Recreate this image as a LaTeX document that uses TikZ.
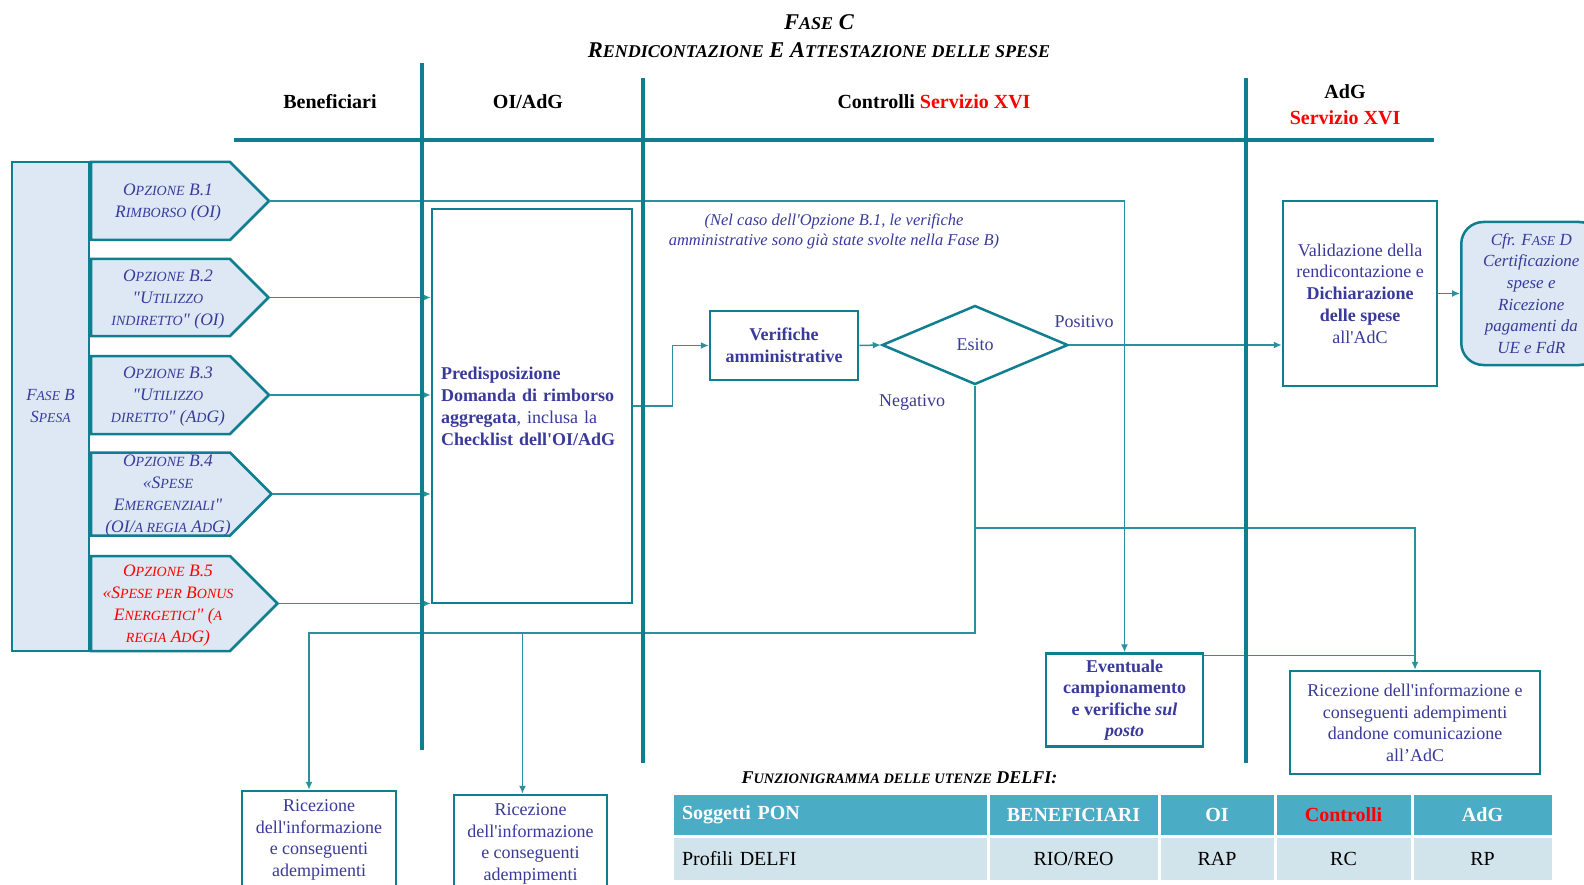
\documentclass[tikz,border=0pt]{standalone}
\usepackage{fontspec}
\setmainfont{Liberation Serif}[Ligatures=TeXOff]
\usetikzlibrary{arrows.meta}
\usetikzlibrary{calc}
\usetikzlibrary{shapes.geometric}

\definecolor{laneteal}{HTML}{0F7E8F}
\definecolor{linkteal}{HTML}{2A909E}
\definecolor{txtblue}{HTML}{3A3A9A}
\definecolor{boxfill}{HTML}{DDE8F4}
\definecolor{tabhead}{HTML}{4BACC6}
\definecolor{tabrow}{HTML}{D1E3EB}

% fake small caps
\makeatletter
\newcommand{\ssc}[1]{{\fontsize{\fpeval{0.8*\f@size}pt}{\baselineskip}\selectfont #1}}
\makeatother

\tikzset{
  lane/.style={laneteal, line width=4pt},
  link/.style={linkteal, line width=1.5pt},
  linkarr/.style={link, ->, >={Latex[length=8pt,width=7pt]}},
  stepbox/.style={draw=laneteal, line width=2.5pt, fill=white, text=txtblue, align=center, inner sep=2pt},
  optshape/.style={draw=laneteal, fill=boxfill, line width=2.5pt, line join=miter},
  optbox/.style={align=center, inner sep=0pt, minimum width=139pt, font=\itshape\fontsize{17.5}{22}\selectfont},
  headlbl/.style={font=\bfseries\fontsize{20}{26}\selectfont, align=center},
  lbl/.style={text=txtblue, font=\fontsize{18}{22}\selectfont},
  tabcell/.style={draw=white, line width=3pt, inner sep=0pt, font=\fontsize{20}{24}\selectfont},
}

\begin{document}
\begin{tikzpicture}[x=1pt,y=-1pt]
  \useasboundingbox (0,0) rectangle (1584,885);

  % title
  \node[font=\bfseries\itshape\fontsize{22.5}{28}\selectfont, align=center] (title) at (819,36)
    {F\ssc{ASE} C\\R\ssc{ENDICONTAZIONE} E A\ssc{TTESTAZIONE DELLE SPESE}};

  % lane headers
  \node[headlbl] (hbenef) at (330,102) {Beneficiari};
  \node[headlbl] (hoi) at (528,102) {OI/AdG};
  \node[headlbl] (hctrl) at (934,102) {Controlli \textcolor{red}{Servizio XVI}};
  \node[headlbl] (hadg) at (1345,105) {AdG\\\textcolor{red}{Servizio XVI}};

  % fase B and options
  \node[draw=laneteal, line width=2.5pt, fill=boxfill, minimum width=77pt, minimum height=489pt,
    text=txtblue, font=\itshape\fontsize{17}{22}\selectfont, align=center] (faseb) at (50.5,406.5)
    {F\ssc{ASE} B\\S\ssc{PESA}};
  \foreach \n/\yc/\h/\col/\txt in {
      b1/201/78/txtblue/{O\ssc{PZIONE} B.1\\R\ssc{IMBORSO} (OI)},
      b2/297.5/77/txtblue/{O\ssc{PZIONE} B.2\\"U\ssc{TILIZZO}\\\ssc{INDIRETTO}" (OI)},
      b3/395/78/txtblue/{O\ssc{PZIONE} B.3\\"U\ssc{TILIZZO}\\\ssc{DIRETTO}" (A\ssc{D}G)},
      b4/494/83/txtblue/{O\ssc{PZIONE} B.4\\«S\ssc{PESE}\\E\ssc{MERGENZIALI}"\\(OI/\ssc{A REGIA} A\ssc{D}G)},
      b5/603.5/95/red/{O\ssc{PZIONE} B.5\\«S\ssc{PESE PER} B\ssc{ONUS}\\E\ssc{NERGETICI}" (\ssc{A}\\\ssc{REGIA} A\ssc{D}G)}}{
    \draw[optshape] (91,\yc-\h/2) -- (230,\yc-\h/2) -- (230+\h/2,\yc) -- (230,\yc+\h/2) -- (91,\yc+\h/2) -- cycle;
    \node[optbox, text=\col, minimum height=\h pt] (\n) at (168,\yc+2) {\txt};
    \coordinate (\n tip) at (230+\h/2,\yc);
  }

  % OI/AdG
  \node[stepbox, minimum width=200pt, minimum height=394pt, text width=182pt, align=left,
    font=\fontsize{18}{22}\selectfont] (pred) at (532,406)
    {\textbf{Predisposizione}\\\textbf{Domanda di rimborso}\\\textbf{aggregata}, inclusa la\\\textbf{Checklist dell'OI/AdG}};

  % controlli
  \node[text=txtblue, font=\itshape\fontsize{16.5}{20}\selectfont, align=center] (note) at (834,231)
    {(Nel caso dell'Opzione B.1, le verifiche\\amministrative sono già state svolte nella Fase B)};
  \node[stepbox, minimum width=148pt, minimum height=69pt, font=\bfseries\fontsize{18}{22}\selectfont] (verif) at (784,345.5)
    {Verifiche\\amministrative};
  \node[diamond, aspect=2.35, draw=laneteal, line width=2.5pt, minimum width=186pt, minimum height=79pt,
    inner sep=0pt, text=txtblue, font=\fontsize{18}{22}\selectfont] (esito) at (975,345) {Esito};
  \node[lbl] (pos) at (1084,322) {Positivo};
  \node[lbl] (neg) at (912,402) {Negativo};
  \node[stepbox, minimum width=157pt, minimum height=93pt, font=\bfseries\fontsize{18}{21.5}\selectfont] (event) at (1124.5,700)
    {Eventuale\\campionamento\\e verifiche \textit{sul}\\\textit{posto}};

  % AdG
  \node[stepbox, minimum width=154pt, minimum height=185pt, font=\fontsize{18}{21.7}\selectfont] (valid) at (1360,293.5)
    {Validazione della\\rendicontazione e\\\textbf{Dichiarazione}\\\textbf{delle spese}\\all'AdC};
  \node[draw=laneteal, line width=2.5pt, fill=boxfill, rounded corners=22pt, minimum width=140pt, minimum height=143pt,
    anchor=west, text=txtblue, font=\itshape\fontsize{17}{21.6}\selectfont, align=center] (cfr) at (1460,293.5)
    {Cfr. F\ssc{ASE} D\\Certificazione\\spese e\\Ricezione\\pagamenti da\\UE e FdR};
  \node[stepbox, minimum width=250pt, minimum height=103pt, font=\fontsize{18}{21.5}\selectfont] (ric3) at (1415,722.5)
    {Ricezione dell'informazione e\\conseguenti adempimenti\\dandone comunicazione\\all’AdC};

  % bottom boxes
  \node[stepbox, minimum width=154pt, minimum height=98pt, font=\fontsize{18}{21.8}\selectfont] (ric1) at (319,840)
    {Ricezione\\dell'informazione\\e conseguenti\\adempimenti};
  \node[stepbox, minimum width=153pt, minimum height=98pt, font=\fontsize{18}{21.8}\selectfont] (ric2) at (530.5,844)
    {Ricezione\\dell'informazione\\e conseguenti\\adempimenti};

  % connectors
  \foreach \n in {b2,b3,b4,b5}
    \draw[linkarr] (\n tip) -- (\n tip -| pred.west);
  \draw[linkarr] (b1tip) -| (event.north);
  \draw[linkarr] (pred.east) -- ++(39,0) |- (verif.west);
  \draw[linkarr] (verif.east) -- (esito.west);
  \draw[linkarr] (esito.east) -- (esito.east -| valid.west);
  \draw[linkarr] (valid.east) -- (cfr.west);
  \path (esito.south) ++(0,247) coordinate (negbase);
  \path (esito.south) ++(0,142) coordinate (negmid);
  \coordinate (ric1in) at ([xshift=-10pt]ric1.north);
  \coordinate (ric2in) at ([xshift=-8pt]ric2.north);
  \draw[linkarr] (esito.south) -- (negbase) -| (ric1in);
  \draw[linkarr] (ric2in |- negbase) -- (ric2in);
  \draw[linkarr] (negmid) -| (ric3.north);
  \coordinate (evr) at ([yshift=-3pt]event.north east);
  \draw[link] (evr) -- (evr -| ric3.north);

  % lanes
  \draw[lane] (234,140) -- (1434,140);
  \draw[lane] (422,63) -- (422,750);
  \draw[lane] (643,78) -- (643,763);
  \draw[lane] (1246,78) -- (1246,763);

  % funzionigramma
  \node[anchor=west, font=\bfseries\itshape\fontsize{18}{22}\selectfont] (funz) at (738,778)
    {F\ssc{UNZIONIGRAMMA DELLE UTENZE} DELFI:};
  \foreach \c/\xa/\xb/\al/\ha/\rb in {
      c1/672/988/left/{Soggetti PON}/{Profili DELFI},
      c2/988/1159/center/{BENEFICIARI}/{RIO/REO},
      c3/1159/1275/center/{OI}/{RAP},
      c4/1275/1412/center/{\textcolor{red}{Controlli}}/{RC},
      c5/1412/1553/center/{AdG}/{RP}}{
    \pgfmathsetmacro\cw{\xb-\xa}
    \pgfmathsetmacro\tw{\xb-\xa-20}
    \node[tabcell, fill=tabhead, text=white, minimum width=\cw pt, minimum height=43pt, text width=\tw pt,
      align=\al, font=\bfseries\fontsize{20}{24}\selectfont] (\c h) at ({(\xa+\xb)/2},814.5) {\ha};
    \node[tabcell, fill=tabrow, text=black, minimum width=\cw pt, minimum height=45pt, text width=\tw pt,
      align=\al] (\c r) at ({(\xa+\xb)/2},858.5) {\rb};
  }
\end{tikzpicture}
\end{document}
